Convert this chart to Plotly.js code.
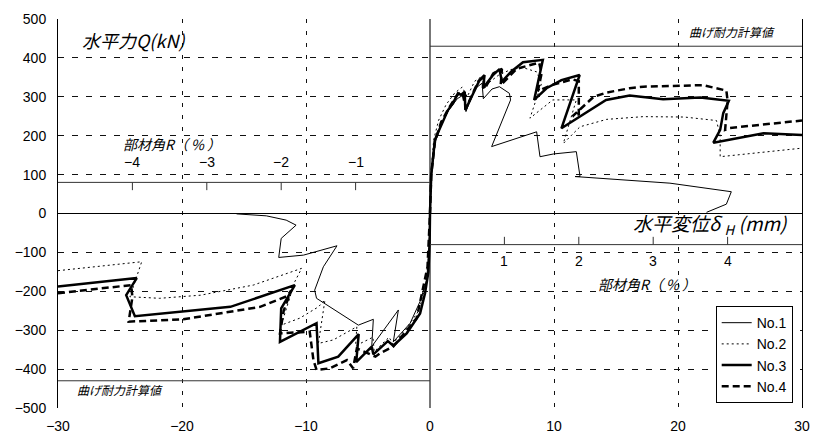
<!DOCTYPE html>
<html>
<head>
<meta charset="utf-8">
<script src="https://cdn.plot.ly/plotly-3.0.1.min.js"></script>
<style>html,body{margin:0;padding:0;background:#fff;}#chart{width:817px;height:437px;}</style>
</head>
<body>
<div id="chart"></div>
<script>
// ---- data (displacement mm, horizontal force kN) ----
const seriesNames = ["No.1", "No.2", "No.3", "No.4"];

const no1X = [-15.6,-13.2,-11.6,-10.8,-12.0,-12.2,-10.2,-7.5,-8.6,-9.3,-9.15,-5.78,-4.57,-4.7,-2.55,-2.96,-1.6,-0.8,-0.27,-0.05,0,
  0.1,0.4,0.9,1.5,2.2,2.7,2.9,3.6,4.2,4.3,5.0,5.6,6.4,6.5,4.97,8.6,8.87,9.95,11.8,12.1,11.7,19.35,24.3,23.9,22.3];
const no1Y = [-1,-6,-17,-30,-64,-113,-107,-83,-137,-197,-218,-287,-272,-342,-248,-330,-282,-226,-171,-80,0,
  90,180,230,265,295,305,262,320,335,295,320,326,309,292,172,210,146,153,159,95,95,78,56,24,3];

const no2X = [-30,-23.25,-24.2,-21.8,-18.5,-14.25,-10.35,-10.9,-12.0,-10.5,-9.0,-8.47,-9.0,-7.8,-5.9,-6.0,-4.6,-4.5,-3.3,-3.0,-1.9,-0.9,-0.4,-0.1,0,
  0.1,0.3,0.7,1.3,2.0,2.6,3.0,3.6,4.3,4.5,5.5,6.5,7.5,8.6,9.0,8.06,9.9,11.8,10.75,12.1,14.25,17.2,20.5,23.1,23.4,23.4,30];
const no2Y = [-147,-124,-214,-218,-210,-184,-141,-175,-287,-269,-240,-222,-334,-325,-291,-340,-318,-355,-318,-335,-295,-250,-190,-110,0,
  110,190,240,280,310,325,300,340,355,330,355,370,375,364,335,245,292,292,180,223,242,249,248,239,200,146,168];

const no3X = [-30,-23.65,-24.5,-23.8,-16.1,-10.9,-12.0,-12.1,-9.15,-9.0,-7.4,-5.75,-5.95,-4.7,-4.57,-3.4,-2.96,-1.88,-0.8,-0.4,-0.13,-0.03,0,
  0.1,0.4,1.05,1.45,1.85,2.26,2.5,2.8,2.85,4.0,4.4,4.27,5.08,5.6,5.8,6.56,7.5,9.1,8.4,9.4,10.6,12.07,10.6,14.2,16.1,18.8,21.8,24.1,23.65,23.4,22.85,26.9,30];
const no3Y = [-188,-166,-210,-264,-240,-184,-244,-330,-282,-385,-368,-310,-382,-342,-362,-328,-340,-308,-257,-205,-150,-76,0,
  100,190,236,266,283,309,305,313,266,343,356,322,356,371,339,365,389,395,292,322,343,356,219,292,303,294,298,290,258,215,182,206,202];

const no4X = [-30,-24.1,-24.0,-24.3,-19.9,-16.1,-13.7,-11.5,-11.2,-11.8,-12.1,-9.7,-9.4,-9.15,-8.06,-6.7,-6.2,-5.9,-4.4,-4.0,-2.96,-1.07,-0.2,0,
  0.1,0.4,0.9,1.5,2.2,2.6,2.9,3.9,4.3,4.4,5.1,5.8,5.7,7.0,8.8,9.0,8.7,9.8,11.5,12.0,12.0,11.5,13.2,14.25,16.1,17.2,22.0,23.9,24.0,23.8,24.2,30];
const no4Y = [-205,-184,-215,-278,-272,-252,-240,-212,-198,-250,-308,-304,-377,-402,-398,-377,-398,-347,-368,-359,-342,-269,-137,0,
  100,185,235,270,305,312,270,340,350,320,360,372,330,372,388,360,315,330,345,340,255,250,300,311,322,326,330,316,290,215,220,239];

// member angle R (%) secondary scales
const rTicksNeg = [-4, -3, -2, -1];
const rTicksPos = [1, 2, 3, 4];
const mmPerPercent = 6;
const rAxisLevel = 80;         // kN level of the R scales
const calcStrength = 430;      // calculated flexural strength, kN

// ---- traces ----
const styles = [
  {width: 1, dash: "solid"},
  {width: 1, dash: "2px,3px"},
  {width: 2.5, dash: "solid"},
  {width: 2.5, dash: "7px,4px"}
];
const xs = [no1X, no2X, no3X, no4X];
const ys = [no1Y, no2Y, no3Y, no4Y];
const traces = seriesNames.map((n, i) => ({
  x: xs[i], y: ys[i], name: n, type: "scatter", mode: "lines",
  line: {color: "#000", width: styles[i].width, dash: styles[i].dash},
  hoverinfo: "skip"
}));

// ---- shapes ----
const shapes = [
  {type: "line", xref: "x", yref: "y", x0: -30, x1: 0, y0: rAxisLevel, y1: rAxisLevel, line: {color: "#333", width: 1}},
  {type: "line", xref: "x", yref: "y", x0: 0, x1: 30, y0: -rAxisLevel, y1: -rAxisLevel, line: {color: "#333", width: 1}},
  {type: "line", xref: "x", yref: "y", x0: 0, x1: 30, y0: calcStrength, y1: calcStrength, line: {color: "#333", width: 1}},
  {type: "line", xref: "x", yref: "y", x0: -30, x1: 0, y0: -calcStrength, y1: -calcStrength, line: {color: "#333", width: 1}}
];
rTicksNeg.forEach(r => shapes.push({type: "line", xref: "x", yref: "y", x0: r*mmPerPercent, x1: r*mmPerPercent, y0: rAxisLevel, y1: rAxisLevel-20, line: {color: "#333", width: 1}}));
rTicksPos.forEach(r => shapes.push({type: "line", xref: "x", yref: "y", x0: r*mmPerPercent, x1: r*mmPerPercent, y0: -rAxisLevel, y1: -rAxisLevel+20, line: {color: "#333", width: 1}}));

// ---- annotations ----
const jp = "'Noto Sans CJK JP', 'Liberation Sans', Arial, sans-serif";
const ann = [];
rTicksNeg.forEach(r => ann.push({x: r*mmPerPercent, y: 132, xref: "x", yref: "y", text: "\u2212" + Math.abs(r), showarrow: false,
  font: {family: "'Liberation Sans', Arial, sans-serif", size: 14, color: "#000"}}));
rTicksPos.forEach(r => ann.push({x: r*mmPerPercent, y: -121, xref: "x", yref: "y", text: String(r), showarrow: false,
  font: {family: "'Liberation Sans', Arial, sans-serif", size: 14, color: "#000"}}));
ann.push({x: -20.8, y: 178, xref: "x", yref: "y", text: "部材角R（ % ）", showarrow: false,
  font: {family: jp, size: 14, color: "#000", style: "italic"}});
ann.push({x: 17.5, y: -181, xref: "x", yref: "y", text: "部材角R（ % ）", showarrow: false,
  font: {family: jp, size: 14, color: "#000", style: "italic"}});
ann.push({x: -28.2, y: 445, xref: "x", yref: "y", xanchor: "left", text: "水平力Q(kN)", showarrow: false,
  font: {family: jp, size: 18, color: "#000", style: "italic"}});
ann.push({x: 29.0, y: -27, xref: "x", yref: "y", xanchor: "right", text: "水平変位δ <sub>H</sub> (mm)", showarrow: false,
  font: {family: jp, size: 19, color: "#000", style: "italic"}});
ann.push({x: 28.0, y: 467, xref: "x", yref: "y", xanchor: "right", text: "曲げ耐力計算値", showarrow: false,
  font: {family: jp, size: 12, color: "#000", style: "italic"}});
ann.push({x: -28.6, y: -453, xref: "x", yref: "y", xanchor: "left", text: "曲げ耐力計算値", showarrow: false,
  font: {family: jp, size: 12, color: "#000", style: "italic"}});

const layout = {
  width: 817, height: 437,
  margin: {l: 58, r: 15, t: 19, b: 29},
  paper_bgcolor: "#fff", plot_bgcolor: "#fff",
  showlegend: true,
  legend: {x: 0.884, y: 0.262, xanchor: "left", yanchor: "top", bgcolor: "#fff", bordercolor: "#000", borderwidth: 1,
    font: {family: "'Liberation Sans', Arial, sans-serif", size: 14, color: "#000"}, itemwidth: 30, tracegroupgap: 0},
  xaxis: {range: [-30, 30], dtick: 10, tick0: 0, showgrid: true, gridcolor: "#111", griddash: "4px,8px", gridwidth: 1,
    zeroline: true, zerolinecolor: "#777", zerolinewidth: 1.5, showline: false, ticks: "",
    tickfont: {family: "'Liberation Sans', Arial, sans-serif", size: 14, color: "#000"}, ticklabelstandoff: 8, fixedrange: true},
  yaxis: {range: [-500, 500], dtick: 100, tick0: 0, showgrid: true, gridcolor: "#111", griddash: "6px,8px", gridwidth: 1,
    zeroline: true, zerolinecolor: "#000", zerolinewidth: 1, showline: true, linecolor: "#000", linewidth: 1, mirror: true, ticks: "",
    tickfont: {family: "'Liberation Sans', Arial, sans-serif", size: 14, color: "#000"}, ticklabelstandoff: 8, fixedrange: true},
  shapes: shapes,
  annotations: ann
};

Plotly.newPlot("chart", traces, layout, {displayModeBar: false, staticPlot: true});
</script>
</body>
</html>
